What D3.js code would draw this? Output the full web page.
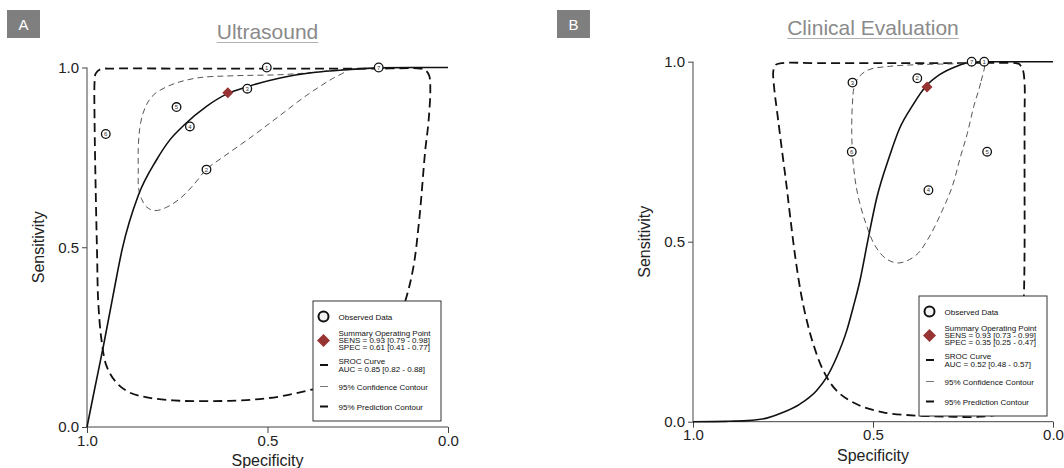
<!DOCTYPE html>
<html>
<head>
<meta charset="utf-8">
<script src="https://cdn.jsdelivr.net/npm/d3@7"></script>
<style>
body { margin: 0; background: #fff; }
svg { display: block; font-family: Arial, "Liberation Sans", sans-serif; }
</style>
</head>
<body>
<svg id="viz" width="1064" height="468"></svg>
<script>
var tickValues = [1.0, 0.5, 0.0];
var tickLabels = ["1.0", "0.5", "0.0"];

// ---- panel A : ultrasound ----
var usStudies = ["1", "7", "3", "5", "4", "6", "2"];
var usSpec = [0.502, 0.192, 0.556, 0.752, 0.715, 0.948, 0.669];
var usSens = [1.000, 1.000, 0.941, 0.890, 0.836, 0.815, 0.716];
var usSummary = [0.61, 0.93]; // spec, sens
var usSroc = [
    [1.000, 0.000], [0.979, 0.105], [0.954, 0.228], [0.928, 0.365], [0.902, 0.497],
    [0.858, 0.644], [0.808, 0.742], [0.771, 0.798], [0.731, 0.840], [0.669, 0.892],
    [0.609, 0.928], [0.558, 0.946], [0.465, 0.971], [0.373, 0.986], [0.280, 0.994],
    [0.192, 0.999], [0.095, 1.000], [0.000, 1.000]
];
var usConf = [
    [0.280, 0.993], [0.373, 0.986], [0.465, 0.980], [0.595, 0.977], [0.687, 0.972],
    [0.743, 0.960], [0.780, 0.946], [0.812, 0.927], [0.831, 0.904], [0.845, 0.872],
    [0.854, 0.830], [0.858, 0.774], [0.858, 0.718], [0.857, 0.663], [0.849, 0.635],
    [0.835, 0.612], [0.812, 0.602], [0.780, 0.611], [0.743, 0.635], [0.706, 0.672],
    [0.669, 0.717], [0.623, 0.751], [0.539, 0.811], [0.465, 0.867], [0.391, 0.923],
    [0.327, 0.965]
];
var usPred = [
    [0.077, 0.997], [0.188, 0.997], [0.373, 0.997], [0.558, 0.997], [0.743, 0.997],
    [0.928, 0.997], [0.963, 0.995], [0.976, 0.983], [0.979, 0.960], [0.979, 0.849],
    [0.976, 0.663], [0.972, 0.477], [0.969, 0.351], [0.960, 0.244], [0.946, 0.170],
    [0.919, 0.124], [0.882, 0.096], [0.826, 0.081], [0.743, 0.073], [0.650, 0.072],
    [0.558, 0.075], [0.465, 0.085], [0.373, 0.105], [0.280, 0.128], [0.206, 0.179],
    [0.151, 0.254], [0.118, 0.351], [0.096, 0.444], [0.079, 0.584], [0.063, 0.770],
    [0.054, 0.849], [0.049, 0.941], [0.052, 0.977], [0.063, 0.993]
];
var usLegend = ["SENS = 0.93 [0.79 - 0.98]", "SPEC = 0.61 [0.41 - 0.77]", "AUC = 0.85 [0.82 - 0.88]"];

// ---- panel B : clinical evaluation ----
var ceStudies = ["7", "1", "2", "3", "6", "5", "4"];
var ceSpec = [0.226, 0.191, 0.377, 0.557, 0.559, 0.183, 0.346];
var ceSens = [1.000, 1.000, 0.954, 0.942, 0.750, 0.750, 0.643];
var ceSummary = [0.35, 0.93];
var ceSroc = [
    [1.000, 0.000], [0.908, 0.001], [0.850, 0.003], [0.795, 0.010], [0.749, 0.026],
    [0.703, 0.049], [0.657, 0.086], [0.629, 0.123], [0.601, 0.179], [0.573, 0.253],
    [0.555, 0.318], [0.536, 0.393], [0.515, 0.500], [0.490, 0.620], [0.453, 0.741],
    [0.426, 0.815], [0.389, 0.880], [0.352, 0.933], [0.315, 0.964], [0.269, 0.987],
    [0.223, 0.999], [0.169, 1.000], [0.000, 1.000]
];
var ceConf = [
    [0.192, 0.998], [0.201, 0.941], [0.220, 0.876], [0.238, 0.801], [0.257, 0.736],
    [0.280, 0.653], [0.307, 0.588], [0.344, 0.513], [0.381, 0.462], [0.428, 0.441],
    [0.464, 0.453], [0.495, 0.490], [0.520, 0.551], [0.543, 0.634], [0.555, 0.718],
    [0.559, 0.801], [0.557, 0.885], [0.552, 0.931], [0.538, 0.959], [0.511, 0.978],
    [0.455, 0.987], [0.372, 0.992], [0.280, 0.994], [0.224, 0.996]
];
var cePred = [
    [0.104, 0.996], [0.280, 0.996], [0.464, 0.996], [0.649, 0.996], [0.755, 0.996],
    [0.771, 0.991], [0.777, 0.973], [0.774, 0.922], [0.767, 0.866], [0.753, 0.755],
    [0.741, 0.662], [0.730, 0.569], [0.716, 0.458], [0.700, 0.356], [0.684, 0.281],
    [0.666, 0.216], [0.638, 0.142], [0.601, 0.086], [0.546, 0.049], [0.472, 0.026],
    [0.380, 0.017], [0.287, 0.014], [0.204, 0.014], [0.141, 0.026], [0.104, 0.086],
    [0.088, 0.198], [0.081, 0.346], [0.079, 0.476], [0.079, 0.662], [0.079, 0.848],
    [0.079, 0.941], [0.084, 0.978], [0.095, 0.994]
];
var ceLegend = ["SENS = 0.93 [0.73 - 0.99]", "SPEC = 0.35 [0.25 - 0.47]", "AUC = 0.52 [0.48 - 0.57]"];

var panels = [
    { letter: "A", title: "Ultrasound", box: [7, 10], titleY: 39, x0: 87, x1: 448, y0: 427, y1: 67.5,
      legend: [313, 301], studies: usStudies, spec: usSpec, sens: usSens, summary: usSummary,
      sroc: usSroc, conf: usConf, pred: usPred, legendText: usLegend },
    { letter: "B", title: "Clinical Evaluation", box: [557, 10], titleY: 35, x0: 693, x1: 1053, y0: 421.7, y1: 61.7,
      legend: [919, 296], studies: ceStudies, spec: ceSpec, sens: ceSens, summary: ceSummary,
      sroc: ceSroc, conf: ceConf, pred: cePred, legendText: ceLegend }
];

var svg = d3.select("#viz");
panels.forEach(drawPanel);

function diamond(h) {
    return "M0," + (-h) + "L" + h + ",0L0," + h + "L" + (-h) + ",0Z";
}

function drawPanel(p) {
    var g = svg.append("g");
    var x = d3.scaleLinear().domain([1, 0]).range([p.x0, p.x1]);
    var y = d3.scaleLinear().domain([0, 1]).range([p.y0, p.y1]);

    // letter box
    g.append("rect").attr("x", p.box[0]).attr("y", p.box[1]).attr("width", 33).attr("height", 28)
        .attr("fill", "#7f7f7f");
    g.append("text").attr("x", p.box[0] + 16.5).attr("y", p.box[1] + 19.5)
        .attr("text-anchor", "middle").attr("fill", "#fff").attr("font-size", 15)
        .text(p.letter);

    // title, underlined
    var cx = (p.x0 + p.x1) / 2;
    var t = g.append("text").attr("x", cx).attr("y", p.titleY)
        .attr("text-anchor", "middle").attr("fill", "#8a8a8a").attr("font-size", 21)
        .text(p.title);
    var tw = t.node().getComputedTextLength();
    g.append("line").attr("x1", cx - tw / 2).attr("x2", cx + tw / 2)
        .attr("y1", p.titleY + 3.5).attr("y2", p.titleY + 3.5)
        .attr("stroke", "#b0b0b0").attr("stroke-width", 1.2);

    // axes
    var yAxis = d3.axisLeft(y).tickValues(tickValues).tickSize(5).tickPadding(3)
        .tickFormat(function (d, i) { return tickLabels[i]; });
    var xAxis = d3.axisBottom(x).tickValues(tickValues).tickSize(6).tickPadding(2)
        .tickFormat(function (d, i) { return tickLabels[i]; });
    var ya = g.append("g").attr("transform", "translate(" + p.x0 + ",0)").call(yAxis);
    var xa = g.append("g").attr("transform", "translate(0," + p.y0 + ")").call(xAxis);
    [ya, xa].forEach(function (a) {
        a.select(".domain").remove();
        a.selectAll("line").attr("stroke", "#444");
        a.selectAll("text").attr("font-size", 15).attr("fill", "#222")
            .attr("font-family", "Arial, 'Liberation Sans', sans-serif");
    });
    g.append("line").attr("x1", p.x0).attr("x2", p.x0).attr("y1", p.y1).attr("y2", p.y0)
        .attr("stroke", "#444");
    g.append("line").attr("x1", p.x0).attr("x2", p.x1).attr("y1", p.y0).attr("y2", p.y0)
        .attr("stroke", "#444");

    g.append("text").attr("transform", "translate(" + (p.x0 - 43) + "," + ((p.y0 + p.y1) / 2) + ") rotate(-90)")
        .attr("text-anchor", "middle").attr("font-size", 16).attr("fill", "#222")
        .text("Sensitivity");
    g.append("text").attr("x", cx).attr("y", p.y0 + 39)
        .attr("text-anchor", "middle").attr("font-size", 16).attr("fill", "#222")
        .text("Specificity");

    // curves
    var line = d3.line().x(function (d) { return x(d[0]); }).y(function (d) { return y(d[1]); });
    g.append("path").attr("d", line.curve(d3.curveCatmullRomClosed)(p.pred))
        .attr("fill", "none").attr("stroke", "#111").attr("stroke-width", 1.8)
        .attr("stroke-dasharray", "9,5");
    g.append("path").attr("d", line.curve(d3.curveCatmullRomClosed)(p.conf))
        .attr("fill", "none").attr("stroke", "#555").attr("stroke-width", 1)
        .attr("stroke-dasharray", "6,4");
    g.append("path").attr("d", line.curve(d3.curveMonotoneX)(p.sroc))
        .attr("fill", "none").attr("stroke", "#111").attr("stroke-width", 1.6);

    // observed studies
    var pts = g.selectAll(".study").data(p.studies).enter().append("g")
        .attr("transform", function (d, i) { return "translate(" + x(p.spec[i]) + "," + y(p.sens[i]) + ")"; });
    pts.append("circle").attr("r", 4.3).attr("fill", "#fff").attr("stroke", "#111").attr("stroke-width", 1.3);
    pts.append("text").attr("text-anchor", "middle").attr("dy", "0.35em").attr("font-size", 6)
        .attr("fill", "#333").text(function (d) { return d; });

    // summary point
    g.append("path").attr("d", diamond(5.5))
        .attr("transform", "translate(" + x(p.summary[0]) + "," + y(p.summary[1]) + ")")
        .attr("fill", "#973333");

    // legend
    var lx = p.legend[0], ly = p.legend[1];
    var lg = g.append("g").attr("transform", "translate(" + lx + "," + ly + ")");
    lg.append("rect").attr("width", 128).attr("height", 120)
        .attr("fill", "#fff").attr("stroke", "#333").attr("stroke-width", 1);
    lg.append("circle").attr("cx", 10.5).attr("cy", 15.5).attr("r", 5)
        .attr("fill", "#f4f4f4").attr("stroke", "#111").attr("stroke-width", 2);
    lg.append("path").attr("d", diamond(6.5)).attr("transform", "translate(10.5,39.5)").attr("fill", "#973333");
    lg.append("line").attr("x1", 7).attr("x2", 15).attr("y1", 64).attr("y2", 64)
        .attr("stroke", "#111").attr("stroke-width", 2);
    lg.append("line").attr("x1", 7).attr("x2", 15).attr("y1", 85.5).attr("y2", 85.5)
        .attr("stroke", "#777").attr("stroke-width", 1);
    lg.append("line").attr("x1", 7).attr("x2", 15).attr("y1", 105.5).attr("y2", 105.5)
        .attr("stroke", "#111").attr("stroke-width", 2);

    var rows = [
        ["Observed Data", 15.7],
        ["Summary Operating Point", 31.7],
        [p.legendText[0], 38.9],
        [p.legendText[1], 46.1],
        ["SROC Curve", 60],
        [p.legendText[2], 67.8],
        ["95% Confidence Contour", 85.7],
        ["95% Prediction Contour", 105.7]
    ];
    lg.selectAll(".lt").data(rows).enter().append("text")
        .attr("x", 25.5).attr("y", function (d) { return d[1]; }).attr("dy", "0.35em")
        .attr("font-size", 8).attr("fill", "#111").text(function (d) { return d[0]; });
}
</script>
</body>
</html>
